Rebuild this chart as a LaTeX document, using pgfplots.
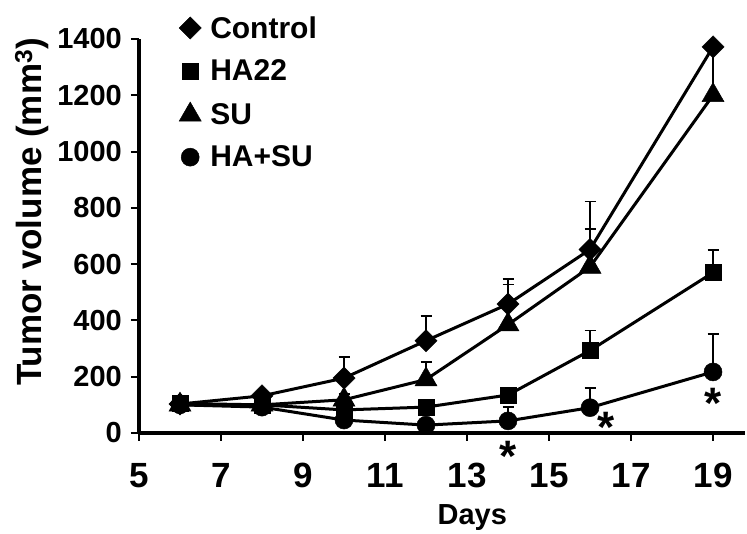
\documentclass[border=0pt]{standalone}
\usepackage{fontspec}
\setmainfont{Liberation Sans}
\usepackage{pgfplots}
\pgfplotsset{compat=1.18}
\begin{document}
\begin{tikzpicture}
\useasboundingbox (-139pt,-101pt) rectangle (608pt,433pt);
\begin{axis}[
  at={(0pt,0pt)}, anchor=south west,
  scale only axis, width=606pt, height=394pt,
  xmin=5, xmax=19.78, ymin=0, ymax=1400,
  axis lines=left,
  axis line style={-, line width=4.5pt, black},
  xtick={5,7,...,19}, ytick={0,200,...,1400},
  tick align=outside, major tick length=8pt,
  tick style={line width=2pt, black},
  scaled ticks=false,
  /pgf/number format/assume math mode=true,
  /pgf/number format/1000 sep={},
  xticklabel style={font=\fontsize{35}{35}\bfseries\selectfont, anchor=north, inner sep=0pt, yshift=-22pt},
  yticklabel style={font=\fontsize{29}{29}\bfseries\selectfont, anchor=east, inner sep=0pt, xshift=-9pt},
  xlabel={Days},
  xlabel style={font=\fontsize{29}{29}\bfseries\selectfont, at={(axis description cs:0.55,-0.232)}, anchor=base},
  ylabel={Tumor volume (mm\textsuperscript{3})},
  ylabel style={font=\fontsize{35}{35}\bfseries\selectfont, at={(axis description cs:-0.177,0.561)}, anchor=center},
  clip=false,
  legend style={draw=none, fill=none, at={(axis description cs:0.066,1.058)}, anchor=north west,
    font=\fontsize{30}{30}\bfseries\selectfont, row sep=20pt, inner sep=0pt,
    nodes={inner sep=0pt},
    /tikz/every odd column/.append style={column sep=9pt}},
  legend cell align=left,
  legend image code/.code={\path[draw=none, fill=none] (-11pt,-11pt) rectangle (11pt,11pt); \draw[#1] plot coordinates {(0pt,0pt)};},
  every axis plot/.append style={black, line width=3pt},
  eb/.style={error bars/.cd, y dir=plus, y explicit,
    error bar style={line width=1.5pt, black},
    error mark options={rotate=90, mark size=5.5pt, line width=1.5pt, black}},
]
% Control
\addplot[mark=square*, mark size=7.8pt, mark options={solid, fill=black, line width=0.5pt, rotate=45}, eb]
  coordinates {(6,103) +- (0,10) (8,132) +- (0,12) (10,195) +- (0,75) (12,328) +- (0,87)
               (14,458) +- (0,89) (16,652) +- (0,170) (19,1372) +- (0,0)};
\addlegendentry{Control}
% HA22
\addplot[mark=square*, mark size=8pt, mark options={solid, fill=black, line width=0.5pt}, eb]
  coordinates {(6,105) +- (0,5) (8,100) +- (0,8) (10,82) +- (0,12) (12,92) +- (0,12)
               (14,135) +- (0,15) (16,293) +- (0,72) (19,570) +- (0,80)};
\addlegendentry{HA22}
% SU
\addplot[mark=triangle*, mark size=12.7pt, mark options={solid, fill=black, line width=0.5pt}, eb]
  coordinates {(6,100) +- (0,5) (8,100) +- (0,8) (10,118) +- (0,20) (12,190) +- (0,62)
               (14,385) +- (0,142) (16,590) +- (0,135) (19,1200) +- (0,170)};
\addlegendentry{SU}
% HA+SU
\addplot[mark=*, mark size=9pt, mark options={solid, fill=black, line width=0.5pt}, eb]
  coordinates {(6,100) +- (0,5) (8,92) +- (0,8) (10,46) +- (0,10) (12,28) +- (0,10)
               (14,43) +- (0,50) (16,90) +- (0,70) (19,217) +- (0,135)};
\addlegendentry{HA+SU}
% significance asterisks
\addplot[only marks, mark=text, text mark={*}, text mark as node=true,
  text mark style={font=\fontsize{44}{44}\bfseries\selectfont, anchor=base, yshift=-20pt, inner sep=0pt}]
  coordinates {(14,-67) (16.39,39) (19,124)};
\end{axis}
\end{tikzpicture}
\end{document}
